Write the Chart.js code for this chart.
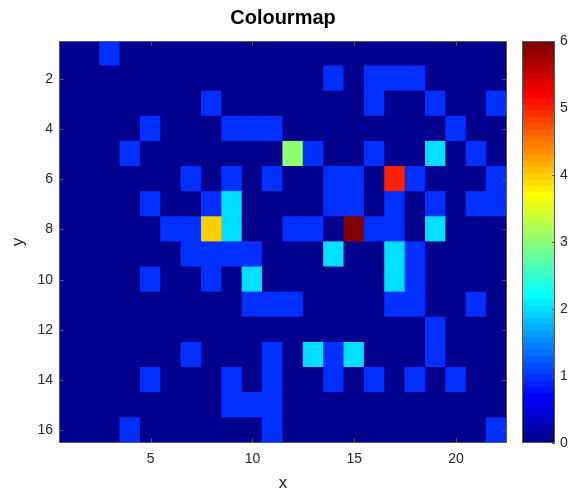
<!DOCTYPE html>
<html>
<head>
<meta charset="utf-8">
<script src="https://cdn.jsdelivr.net/npm/chart.js@4/dist/chart.umd.min.js"></script>
<style>
  html, body { margin: 0; padding: 0; background: #fff; }
  #wrap { position: relative; width: 571px; height: 500px; }
  #wrap canvas { position: absolute; left: 0; top: 0; }
</style>
</head>
<body>
<div id="wrap">
  <canvas id="map" width="571" height="500"></canvas>
  <canvas id="bar" width="571" height="500"></canvas>
</div>
<script>
'use strict';

// values, one array per row (y = 1 at the top)
var row01 = [0,0,1,0,0,0,0,0,0,0,0,0,0,0,0,0,0,0,0,0,0,0];
var row02 = [0,0,0,0,0,0,0,0,0,0,0,0,0,1,0,1,1,1,0,0,0,0];
var row03 = [0,0,0,0,0,0,0,1,0,0,0,0,0,0,0,1,0,0,1,0,0,1];
var row04 = [0,0,0,0,1,0,0,0,1,1,1,0,0,0,0,0,0,0,0,1,0,0];
var row05 = [0,0,0,1,0,0,0,0,0,0,0,3,1,0,0,1,0,0,2,0,1,0];
var row06 = [0,0,0,0,0,0,1,0,1,0,1,0,0,1,1,0,5,1,0,0,0,1];
var row07 = [0,0,0,0,1,0,0,1,2,0,0,0,0,1,1,0,1,0,1,0,1,1];
var row08 = [0,0,0,0,0,1,1,4,2,0,0,1,1,0,6,1,1,0,2,0,0,0];
var row09 = [0,0,0,0,0,0,1,1,1,1,0,0,0,2,0,0,2,1,0,0,0,0];
var row10 = [0,0,0,0,1,0,0,1,0,2,0,0,0,0,0,0,2,1,0,0,0,0];
var row11 = [0,0,0,0,0,0,0,0,0,1,1,1,0,0,0,0,1,1,0,0,1,0];
var row12 = [0,0,0,0,0,0,0,0,0,0,0,0,0,0,0,0,0,0,1,0,0,0];
var row13 = [0,0,0,0,0,0,1,0,0,0,1,0,2,1,2,0,0,0,1,0,0,0];
var row14 = [0,0,0,0,1,0,0,0,1,0,1,0,0,1,0,1,0,1,0,1,0,0];
var row15 = [0,0,0,0,0,0,0,0,1,1,1,0,0,0,0,0,0,0,0,0,0,0];
var row16 = [0,0,0,1,0,0,0,0,0,0,1,0,0,0,0,0,0,0,0,0,0,1];

var rows    = [row01,row02,row03,row04,row05,row06,row07,row08,
               row09,row10,row11,row12,row13,row14,row15,row16];
var xTicks  = [5, 10, 15, 20];
var yTicks  = [2, 4, 6, 8, 10, 12, 14, 16];
var cbTicks = [0, 1, 2, 3, 4, 5, 6];
var cMin = 0, cMax = 6;

// matlab jet(64)
var NCOL = 64;
function jetRow(k) {            // k = 1..64
    function u(j) {
        if (j < 1 || j > 47) return 0;
        if (j <= 16) return j / 16;
        if (j <= 31) return 1;
        return (48 - j) / 16;
    }
    var r = u(k - 24), g = u(k - 8), b = u(k + 8);
    return 'rgb(' + Math.round(r * 255) + ',' + Math.round(g * 255) + ',' + Math.round(b * 255) + ')';
}
function colourFor(v) {
    var k = Math.floor((v - cMin) / (cMax - cMin) * NCOL) + 1;
    return jetRow(Math.max(1, Math.min(NCOL, k)));
}

var cells = [], cellColours = [];
rows.forEach(function (row, i) {
    row.forEach(function (v, j) {
        cells.push({ x: j + 1, y: [i + 0.5, i + 1.5] });
        cellColours.push(colourFor(v));
    });
});

var bands = [], bandColours = [];
for (var k = 1; k <= NCOL; k++) {
    bands.push({ x: 'cb', y: [cMin + (k - 1) * (cMax - cMin) / NCOL, cMin + k * (cMax - cMin) / NCOL] });
    bandColours.push(jetRow(k));
}

var FONT = "'Liberation Sans', Arial, Helvetica, sans-serif";
var TEXT = '#262626';
var TICKLEN = 4.5;

function setTicks(list) {
    return function (scale) {
        scale.ticks = list.map(function (v) { return { value: v }; });
    };
}

// frame + inward tick marks, matlab style
var boxPlugin = {
    id: 'box',
    afterDraw: function (chart) {
        var ctx = chart.ctx, a = chart.chartArea;
        ctx.save();
        ctx.strokeStyle = '#5a5a5a';
        ctx.lineWidth = 1;
        ctx.strokeRect(Math.round(a.left) + 0.5, Math.round(a.top) + 0.5,
                       Math.round(a.right - a.left) - 1, Math.round(a.bottom - a.top) - 1);
        ctx.beginPath();
        var xs = chart.scales.x, ys = chart.scales.y;
        if (xs.options.display) {
            xs.ticks.forEach(function (t) {
                var px = Math.round(xs.getPixelForValue(t.value)) + 0.5;
                ctx.moveTo(px, a.bottom); ctx.lineTo(px, a.bottom - TICKLEN);
                ctx.moveTo(px, a.top);    ctx.lineTo(px, a.top + TICKLEN);
            });
        }
        ys.ticks.forEach(function (t) {
            var py = Math.round(ys.getPixelForValue(t.value)) + 0.5;
            if (xs.options.display) {
                ctx.moveTo(a.left, py);  ctx.lineTo(a.left + TICKLEN, py);
            }
            ctx.moveTo(a.right, py); ctx.lineTo(a.right - (xs.options.display ? TICKLEN : 3), py);
        });
        ctx.stroke();
        ctx.restore();
    }
};

new Chart(document.getElementById('map'), {
    type: 'bar',
    data: {
        datasets: [{
            data: cells,
            backgroundColor: cellColours,
            borderWidth: 0,
            inflateAmount: 0.6,
            barPercentage: 1,
            categoryPercentage: 1
        }]
    },
    options: {
        responsive: false,
        animation: false,
        events: [],
        layout: { padding: { left: 0, top: 0, right: 64, bottom: 0 } },
        plugins: {
            legend: { display: false },
            tooltip: { enabled: false },
            title: {
                display: true,
                text: 'Colourmap',
                fullSize: false,
                color: '#000',
                font: { family: FONT, size: 20, weight: 'bold', lineHeight: 1.2 },
                padding: { top: 6, bottom: 11 }
            }
        },
        scales: {
            x: {
                type: 'linear',
                min: 0.5,
                max: 22.5,
                offset: false,
                grid: { display: false, drawTicks: false },
                border: { display: false },
                afterBuildTicks: setTicks(xTicks),
                afterFit: function (scale) { scale.height = 57; },
                ticks: {
                    color: TEXT,
                    padding: 8,
                    maxRotation: 0,
                    font: { family: FONT, size: 14 },
                    callback: function (v) { return String(v); }
                },
                title: {
                    display: true,
                    text: 'x',
                    color: TEXT,
                    font: { family: FONT, size: 17 },
                    padding: { top: 0, bottom: 6 }
                }
            },
            y: {
                type: 'linear',
                reverse: true,
                min: 0.5,
                max: 16.5,
                grid: { display: false, drawTicks: false },
                border: { display: false },
                afterBuildTicks: setTicks(yTicks),
                afterFit: function (scale) { scale.width = 59; },
                ticks: {
                    color: TEXT,
                    padding: 6,
                    font: { family: FONT, size: 14 },
                    callback: function (v) { return String(v); }
                },
                title: {
                    display: true,
                    text: 'y',
                    color: TEXT,
                    font: { family: FONT, size: 17 },
                    padding: { top: 8, bottom: 0 }
                }
            }
        }
    },
    plugins: [boxPlugin]
});

// colour bar
new Chart(document.getElementById('bar'), {
    type: 'bar',
    data: {
        labels: ['cb'],
        datasets: [{
            data: bands,
            backgroundColor: bandColours,
            borderWidth: 0,
            inflateAmount: 0.6,
            barPercentage: 1,
            categoryPercentage: 1
        }]
    },
    options: {
        responsive: false,
        animation: false,
        events: [],
        layout: { padding: { left: 522, top: 41, right: 0, bottom: 57 } },
        plugins: { legend: { display: false }, tooltip: { enabled: false } },
        scales: {
            x: { display: false },
            y: {
                position: 'right',
                min: cMin,
                max: cMax,
                grid: { display: false, drawTicks: false },
                border: { display: false },
                afterBuildTicks: setTicks(cbTicks),
                afterFit: function (scale) { scale.width = 16; },
                ticks: {
                    color: TEXT,
                    padding: 5,
                    font: { family: FONT, size: 14 },
                    callback: function (v) { return String(v); }
                }
            }
        }
    },
    plugins: [boxPlugin]
});
</script>
</body>
</html>
